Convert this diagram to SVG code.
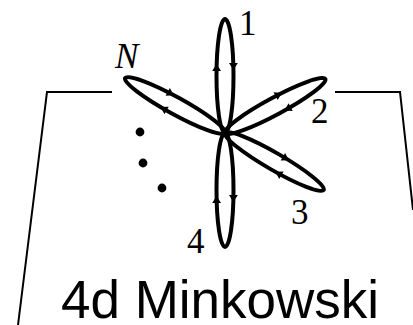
<svg xmlns="http://www.w3.org/2000/svg" width="413" height="325" viewBox="0 0 413 325">
<defs>
<style>
.frame{fill:none;stroke:#000;stroke-width:2}
.petal{fill:none;stroke:#000;stroke-width:4}
.arr{fill:#000}
.lbl{font-family:"Liberation Serif","Times New Roman",serif;font-size:35px;fill:#000}
.title{font-family:"Liberation Sans",Arial,sans-serif;font-size:53px;fill:#000}
</style>
<g id="petalShape">
<ellipse class="petal" cx="57" cy="0" rx="57" ry="8.5"/>
<polygon class="arr" points="69,-8.4 62,-12.8 62,-4"/>
<polygon class="arr" points="63,8.4 70,4 70,12.8"/>
</g>
</defs>
<rect width="413" height="325" fill="#fff"/>
<g id="frame">
<polyline class="frame" points="112,92 47,92 18,325"/>
<polyline class="frame" points="335,92 400,92 413,210"/>
</g>
<g id="connectors">
<g id="petal1" transform="translate(225,133) rotate(-90)"><use href="#petalShape"/></g>
<g id="petal2" transform="translate(225,133) rotate(-28.3)"><use href="#petalShape"/></g>
<g id="petal3" transform="translate(225,133) rotate(30)"><use href="#petalShape"/></g>
<g id="petal4" transform="translate(225,133) rotate(90)"><use href="#petalShape"/></g>
<g id="petalN" transform="translate(225,133) rotate(-151.2)"><use href="#petalShape"/></g>
</g>
<g id="dots">
<circle cx="140" cy="132" r="4.4"/>
<circle cx="143" cy="163" r="4.4"/>
<circle cx="162" cy="188" r="4.4"/>
</g>
<g id="labels">
<text class="lbl" x="239" y="35">1</text>
<text class="lbl" x="311" y="123">2</text>
<text class="lbl" x="291" y="224">3</text>
<text class="lbl" x="187" y="253">4</text>
<text class="lbl" x="115" y="68" font-style="italic" font-size="33">N</text>
</g>
<g id="title">
<text class="title" x="61" y="318">4d Minkowski</text>
</g>
</svg>
